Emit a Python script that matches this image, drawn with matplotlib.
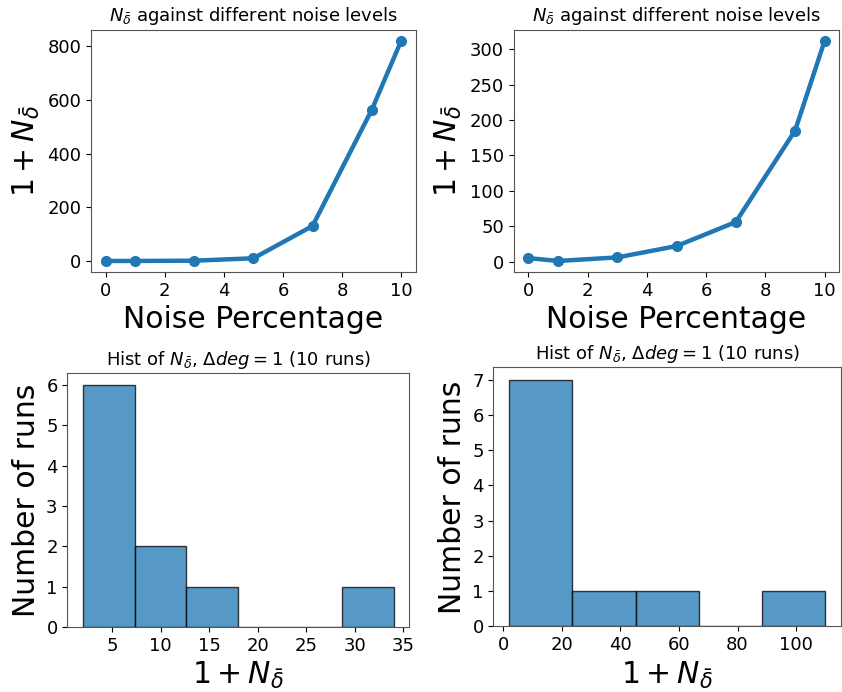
#!/usr/bin/env python3

import numpy as np
import matplotlib.pyplot as plt

noise = [0, 1, 3, 5, 7, 9, 10]
n_delta_a = [1, 1, 2, 11, 131, 562, 820]
n_delta_b = [5, 1, 6, 22, 56, 185, 312]

# 1 + N values over the 10 runs (Delta deg = 1)
runs_a = [2, 3, 3, 4, 5, 7, 9, 12, 15, 34]
runs_b = [2, 3, 5, 8, 12, 16, 20, 35, 58, 110]

title_line = r'$N_{\bar{\delta}}$ against different noise levels'
title_hist = r'Hist of $N_{\bar{\delta}}$, $\Delta deg = 1$ (10 runs)'
ylab = r'$1 + N_{\bar{\delta}}$'

figure = plt.figure(figsize=(8.42, 6.92), dpi=100)

positions = [
    [0.108, 0.607, 0.386, 0.350],
    [0.610, 0.607, 0.387, 0.350],
    [0.080, 0.094, 0.406, 0.367],
    [0.586, 0.095, 0.413, 0.374],
]
axes = [figure.add_axes(p) for p in positions]

for ax, y in zip(axes[:2], [n_delta_a, n_delta_b]):
    ax.plot(noise, y, '-o', color='tab:blue', linewidth=3.2, markersize=7)
    ax.set_title(title_line, fontsize=13)
    ax.set_xlabel('Noise Percentage', fontsize=21.5)
    ax.set_ylabel(ylab, fontsize=21.5)
    ax.set_xticks([0, 2, 4, 6, 8, 10])

axes[0].set_yticks(range(0, 801, 200))
axes[1].set_yticks(range(0, 301, 50))

for ax, data, bins in zip(axes[2:], [runs_a, runs_b], [6, 5]):
    ax.hist(data, bins=bins, color='tab:blue', alpha=0.75,
            edgecolor='black', linewidth=1.0)
    ax.set_title(title_hist, fontsize=13)
    ax.set_xlabel(ylab, fontsize=21.5)
    ax.set_ylabel('Number of runs', fontsize=21.5)

axes[2].set_xticks(range(5, 36, 5))
axes[2].set_yticks(range(0, 7))
axes[3].set_xticks(range(0, 101, 20))
axes[3].set_yticks(range(0, 8))

for ax in axes:
    ax.tick_params(labelsize=13)
    for spine in ax.spines.values():
        spine.set_color('#555555')

figure.savefig('out.png', dpi=100)
